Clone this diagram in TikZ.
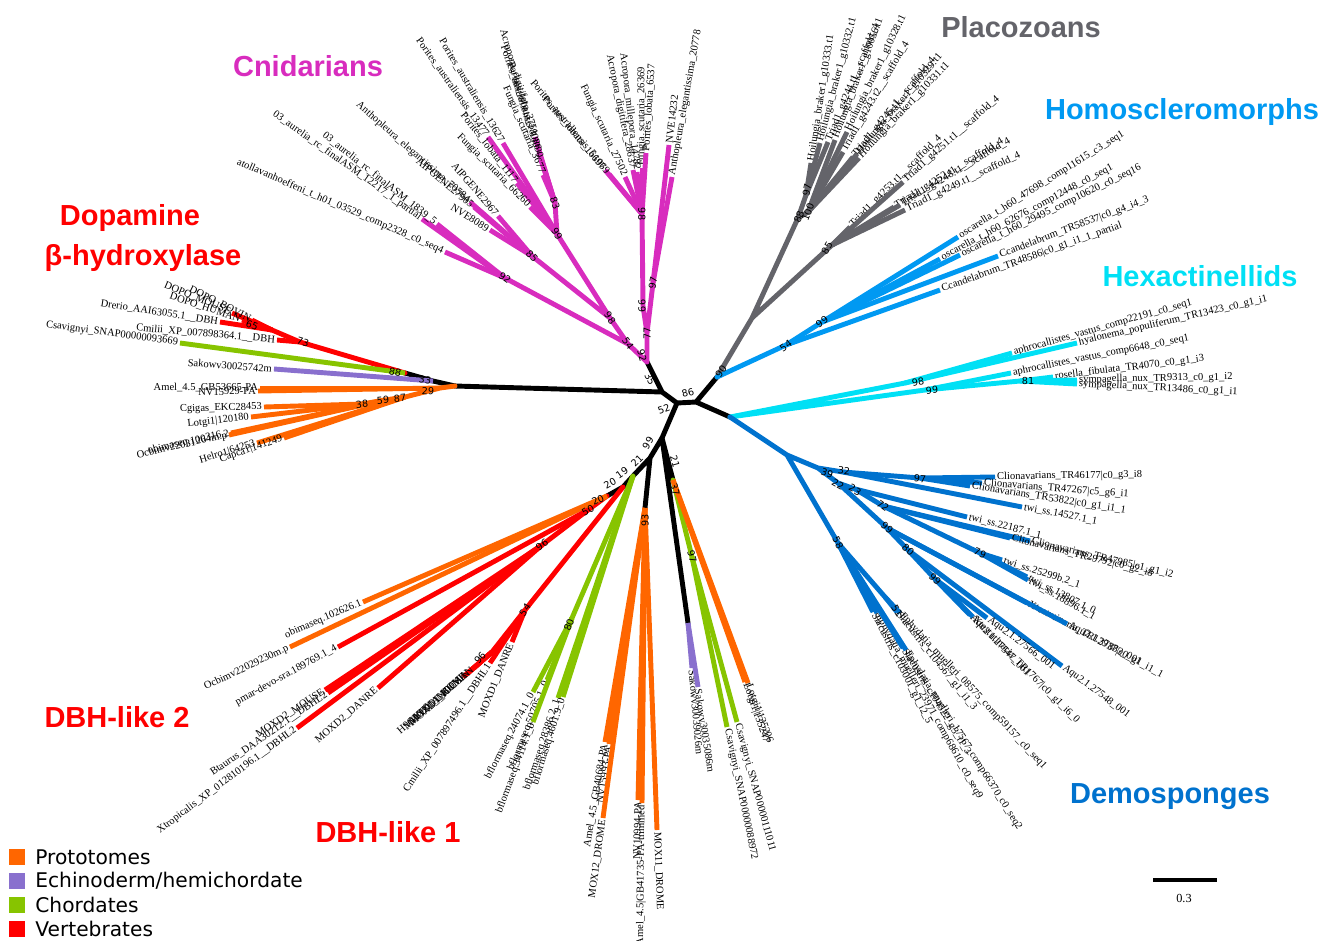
\documentclass[tikz,border=0pt]{standalone}
\usepackage{fontspec}
\setmainfont{Liberation Serif}
\newfontfamily\headfont{Liberation Sans}
\newfontfamily\keyfont{DejaVu Sans}

\definecolor{proto}{RGB}{255,102,0}
\definecolor{echino}{RGB}{137,112,206}
\definecolor{chord}{RGB}{135,196,0}
\definecolor{verte}{RGB}{255,0,0}
\definecolor{cnid}{RGB}{216,44,190}
\definecolor{placo}{RGB}{100,100,106}
\definecolor{homo}{RGB}{0,153,242}
\definecolor{hexa}{RGB}{0,224,245}
\definecolor{demo}{RGB}{0,114,206}

\tikzset{
  branch/.style={line width=2.8pt},
  stem/.style={branch,line cap=round},
  leaflabel/.style={font=\fontsize{6}{7}\selectfont,inner sep=1pt},
  boot/.style={font=\keyfont\fontsize{5.5}{6}\selectfont,inner sep=0pt},
  clade/.style={font=\headfont\bfseries\fontsize{16.5}{19}\selectfont,inner sep=0pt},
  keybox/.style={minimum size=9pt,inner sep=0pt},
  keytext/.style={font=\keyfont\fontsize{11.5}{13}\selectfont,anchor=west,inner sep=0pt}
}

% parent, name, position, colour, label
\newcommand{\treeleaf}[5]{%
  \coordinate (#2) at (#3);
  \draw[branch,#4] (#1) -- (#2);
  \pgfmathanglebetweenpoints{\pgfpointanchor{#1}{center}}{\pgfpointanchor{#2}{center}}%
  \edef\leafang{\pgfmathresult}%
  \ifdim\leafang pt>90pt\relax
    \ifdim\leafang pt<270pt\relax
      \node[leaflabel,anchor=east,rotate=\leafang-180] (#2t) at (#2) {#5};
    \else
      \node[leaflabel,anchor=west,rotate=\leafang] (#2t) at (#2) {#5};
    \fi
  \else
    \node[leaflabel,anchor=west,rotate=\leafang] (#2t) at (#2) {#5};
  \fi}

\begin{document}
\catcode`\_=12
\begin{tikzpicture}[x=0.02cm,y=-0.02cm]
\useasboundingbox (0,0) rectangle (1327,940);

% centre of the tree
\coordinate (c1) at (662,392);
\coordinate (c2) at (677,403);
\coordinate (c3) at (696,402);
\coordinate (c4) at (662,438);
\coordinate (cn0) at (647,362);
\coordinate (d0) at (455,386);
\coordinate (hs0) at (717,377);
\coordinate (hx0) at (730,417);
\draw[stem] (c1) -- (cn0) (c1) -- (d0) (c1) -- (c2) -- (c3) (c2) -- (c4)
  (c3) -- (hs0) (c3) -- (hx0);

% dopamine beta-hydroxylase
\coordinate (d1) at (433,381);
\coordinate (d2) at (405,373);
\coordinate (d3) at (300,342);
\coordinate (d4) at (272,330);
\coordinate (d6) at (440,388);
\coordinate (d7) at (405,397);
\coordinate (d8) at (385,400);
\coordinate (d9) at (362,404);
\draw[stem] (d0) -- (d1) -- (d2);
\draw[stem,verte] (d2) -- (d3) -- (d4);
\draw[stem,proto] (d0) -- (d6) -- (d7) -- (d8) -- (d9);
\treeleaf{d2}{csav1}{180,343}{chord}{Csavignyi_SNAP00000093669}
\treeleaf{d1}{sako1}{274,369}{echino}{Sakowv30025742m}
\treeleaf{d3}{cmil1}{277,340}{verte}{Cmilii_XP_007898364.1__DBH}
\treeleaf{d4}{drer1}{220,322}{verte}{Drerio_AAI63055.1__DBH}
\treeleaf{d4}{dopom}{232,313}{verte}{DOPO_MOUSE}
\treeleaf{d4}{dopoh}{242,320}{verte}{DOPO_HUMAN}
\treeleaf{d4}{dopob}{252,320}{verte}{DOPO_BOVIN}
\treeleaf{d6}{amel1}{260,388}{proto}{Amel_4.5_GB53665-PA}
\treeleaf{d6}{nv1}{258,391}{proto}{NV15929-PA}
\treeleaf{d9}{cgig}{264,407}{proto}{Cgigas_EKC28453}
\treeleaf{d9}{lotg1}{251,417}{proto}{Lotgi1|120180}
\treeleaf{d8}{obim1}{231,433}{proto}{obimaseq.100316.2}
\treeleaf{d8}{ocbi1}{229,435}{proto}{Ocbimv22031264m.p}
\treeleaf{d7}{helr}{257,443}{proto}{Helro1|64253}
\treeleaf{d7}{capc}{284,438}{proto}{Capca1|141249}

% cnidarians
\coordinate (cnA) at (647,333);
\coordinate (cnB) at (643,306);
\coordinate (cnC) at (642,214);
\coordinate (cnJ) at (653,283);
\coordinate (cnD) at (628,344);
\coordinate (cnE) at (610,318);
\coordinate (cnF) at (557,234);
\coordinate (cnG) at (555,203);
\coordinate (cnH) at (532,256);
\coordinate (cnI) at (505,278);
\draw[stem,cnid] (cn0) -- (cnA) -- (cnB) -- (cnC) (cnA) -- (cnJ)
  (cn0) -- (cnD) -- (cnE) -- (cnF) -- (cnG) (cnE) -- (cnH) (cnD) -- (cnI);
\treeleaf{cnJ}{nve1}{669,145}{cnid}{NVE14232}
\treeleaf{cnJ}{anth1}{672,177}{cnid}{Anthopleura_elegantissima_20778}
\treeleaf{cnC}{plob1}{605,170}{cnid}{Porites_lobata_16697}
\treeleaf{cnC}{paus1}{609,174}{cnid}{Porites_australiensis_51069}
\treeleaf{cnC}{fung1}{625,177}{cnid}{Fungia_scutaria_27502}
\treeleaf{cnC}{adig1}{633,170}{cnid}{Acropora_digitifera_28637}
\treeleaf{cnC}{amil1}{637,172}{cnid}{Acropora_millepora_14782}
\treeleaf{cnC}{fung2}{642,168}{cnid}{Fungia_scutaria_26369}
\treeleaf{cnC}{plob2}{646,153}{cnid}{Porites_lobata_6537}
\treeleaf{cnG}{adig2}{535,137}{cnid}{Acropora_digitifera_3751}
\treeleaf{cnG}{plob3}{539,152}{cnid}{Porites_lobata_18086}
\treeleaf{cnG}{paus2}{541,160}{cnid}{Porites_australiensis_18090}
\treeleaf{cnG}{fung3}{543,175}{cnid}{Fungia_scutaria_3677}
\treeleaf{cnF}{paus3}{488,137}{cnid}{Porites_australiensis_13477}
\treeleaf{cnF}{paus4}{503,143}{cnid}{Porites_australiensis_13627}
\treeleaf{cnF}{plob4}{517,183}{cnid}{Porites_lobata_1117}
\treeleaf{cnF}{fung4}{530,207}{cnid}{Fungia_scutaria_66260}
\treeleaf{cnH}{anth2}{470,202}{cnid}{Anthopleura_elegantissima_70584}
\treeleaf{cnH}{aipg1}{474,207}{cnid}{AIPGENE27905}
\treeleaf{cnH}{aipg2}{498,216}{cnid}{AIPGENE2967}
\treeleaf{cnH}{nve2}{490,230}{cnid}{NVE8089}
\treeleaf{cnI}{aur1}{422,219}{cnid}{03_aurelia_rc_finalASM_12217_1_partial}
\treeleaf{cnI}{aur2}{437,224}{cnid}{03_aurelia_rc_finalASM_1839_5}
\treeleaf{cnI}{atol1}{445,252}{cnid}{atollavanhoeffeni_t_h01_03529_comp2328_c0_seq4}

% placozoans
\coordinate (pl0) at (752,318);
\coordinate (pl1) at (798,218);
\coordinate (pl2) at (806,195);
\coordinate (pl3) at (808,212);
\coordinate (pl4) at (832,245);
\draw[stem,placo] (hs0) -- (pl0) -- (pl1) -- (pl2) (pl1) -- (pl3) (pl0) -- (pl4);
\treeleaf{pl2}{hoil1}{811,163}{placo}{Hoilungia_braker1_g10333.t1}
\treeleaf{pl2}{hoil2}{820,143}{placo}{Hoilungia_braker1_g10332.t1}
\treeleaf{pl2}{tri1}{828,142}{placo}{Triad1_g4244.t1__scaffold_4}
\treeleaf{pl3}{hoil3}{835,140}{placo}{Hoilungia_braker1_g10056.t1}
\treeleaf{pl3}{tri2}{843,152}{placo}{Triad1_g4243.t2__scaffold_4}
\treeleaf{pl3}{hoil4}{847,132}{placo}{Hoilungia_braker1_g10328.t1}
\treeleaf{pl3}{tri3}{853,157}{placo}{Triad1_g4245.t1__scaffold_4}
\treeleaf{pl3}{hoil5}{857,154}{placo}{Hoilungia_braker1_g10329.t1}
\treeleaf{pl3}{hoil6}{859,158}{placo}{Hoilungia_braker1_g10331.t1}
\treeleaf{pl4}{tri4}{850,227}{placo}{Triad1_g4253.t1__scaffold_4}
\treeleaf{pl4}{tri5}{903,182}{placo}{Triad1_g4251.t1__scaffold_4}
\treeleaf{pl4}{tri6}{894,207}{placo}{Triad1_g4252.t1__scaffold_4}
\treeleaf{pl4}{tri7}{900,205}{placo}{Triad1_g4248.t1__scaffold_4}
\treeleaf{pl4}{tri8}{905,210}{placo}{Triad1_g4249.t1__scaffold_4}

% homoscleromorphs
\coordinate (hm1) at (786,345);
\coordinate (hm2) at (822,322);
\draw[stem,homo] (hs0) -- (hm1) -- (hm2);
\treeleaf{hm2}{osc1}{958,237}{homo}{oscarella_t_h60_47698_comp11615_c3_seq1}
\treeleaf{hm2}{osc2}{940,259}{homo}{oscarella_t_h60_62676_comp12448_c0_seq1}
\treeleaf{hm2}{osc3}{960,255}{homo}{oscarella_t_h60_29495_comp10620_c0_seq16}
\treeleaf{hm2}{ccan1}{998,256}{homo}{Ccandelabrum_TR58537|c0_g4_i4_3}
\treeleaf{hm1}{ccan2}{940,290}{homo}{Ccandelabrum_TR48586|c0_g1_i1_1_partial}

% hexactinellids
\coordinate (hx1) at (905,383);
\coordinate (hx2) at (925,390);
\coordinate (hx3) at (1020,381);
\draw[stem,hexa] (hx0) -- (hx1) (hx0) -- (hx2) -- (hx3);
\treeleaf{hx1}{aph1}{1012,353}{hexa}{aphrocallistes_vastus_comp22191_c0_seq1}
\treeleaf{hx1}{hyal1}{1077,343}{hexa}{hyalonema_populiferum_TR13423_c0_g1_i1}
\treeleaf{hx2}{aph2}{1011,373}{hexa}{aphrocallistes_vastus_comp6648_c0_seq1}
\treeleaf{hx3}{ros1}{1053,377}{hexa}{rosella_fibulata_TR4070_c0_g1_i3}
\treeleaf{hx3}{sym1}{1077,380}{hexa}{sympagella_nux_TR9313_c0_g1_i2}
\treeleaf{hx3}{sym2}{1077,384}{hexa}{sympagella_nux_TR13486_c0_g1_i1}

% demosponges
\coordinate (dm0) at (787,455);
\coordinate (dm1) at (818,468);
\coordinate (dm2) at (843,472);
\coordinate (dm3) at (920,478);
\coordinate (dm4) at (838,483);
\coordinate (dm5) at (855,489);
\coordinate (dm6) at (883,506);
\coordinate (dm7) at (980,553);
\coordinate (dm8) at (887,528);
\coordinate (dm9) at (908,550);
\coordinate (dm10) at (935,579);
\coordinate (dm11) at (838,543);
\coordinate (dm12) at (885,597);
\draw[stem,demo] (hx0) -- (dm0) -- (dm1) -- (dm2) -- (dm3) (dm1) -- (dm4) -- (dm5) -- (dm6) -- (dm7)
  (dm4) -- (dm8) -- (dm9) -- (dm10) (dm0) -- (dm11) -- (dm12);
\treeleaf{dm3}{cli1}{995,477}{demo}{Clionavarians_TR46177|c0_g3_i8}
\treeleaf{dm3}{cli2}{982,483}{demo}{Clionavarians_TR47267|c5_g6_i1}
\treeleaf{dm3}{cli3}{970,486}{demo}{Clionavarians_TR53822|c0_g1_i1_1}
\treeleaf{dm2}{twi1}{1022,507}{demo}{twi_ss.14527.1_1}
\treeleaf{dm5}{twi2}{967,517}{demo}{twi_ss.22187.1_1}
\treeleaf{dm6}{cli4}{1030,541}{demo}{Clionavarians_TR47985|c1_g1_i2}
\treeleaf{dm6}{cli5}{1010,538}{demo}{Clionavarians_TR29792|c0_g2_i8}
\treeleaf{dm7}{twi3}{1002,560}{demo}{twi_ss.25299b.2_1}
\treeleaf{dm7}{twi4}{1027,577}{demo}{twi_ss.13807.1_0}
\treeleaf{dm7}{twi5}{1028,580}{demo}{twi_ss.18896.1_1}
\treeleaf{dm8}{xte1}{1027,603}{demo}{Xtestutinaria_TR12937|c0_g1_i1_1}
\treeleaf{dm8}{aqu1}{1067,624}{demo}{Aqu2.1.37883_001}
\treeleaf{dm9}{aqu2}{1062,666}{demo}{Aqu2.1.27548_001}
\treeleaf{dm10}{aqu3}{987,618}{demo}{Aqu2.1.27566_001}
\treeleaf{dm10}{xte2}{973,617}{demo}{Xtestutinaria_TR1767|c0_g1_i6_0}
\treeleaf{dm10}{aqu4}{970,615}{demo}{Aqu2.1.27547_001}
\treeleaf{dm11}{slac1}{873,612}{demo}{Slacustris_c103001_g1_i2_5}
\treeleaf{dm11}{ephy1}{877,613}{demo}{Ephydatia_muelleri_23971_comp68610_c0_seq9}
\treeleaf{dm11}{slac2}{903,648}{demo}{Slacustris_c104522_g3_i1_3}
\treeleaf{dm11}{ephy2}{906,650}{demo}{Ephydatia_muelleri_17567_comp66370_c0_seq2}
\treeleaf{dm12}{slac3}{897,612}{demo}{Slacustris_c104567_g1_i1_3}
\treeleaf{dm12}{ephy3}{900,613}{demo}{Ephydatia_muelleri_08575_comp59157_c0_seq1}

% DBH-like 1 and 2
\coordinate (bb1) at (650,458);
\coordinate (bb2) at (633,476);
\coordinate (bb3) at (623,487);
\coordinate (bb4) at (607,496);
\coordinate (or0) at (645,508);
\coordinate (or1) at (673,480);
\coordinate (pu0) at (688,623);
\coordinate (gr1) at (572,618);
\coordinate (gr3) at (692,557);
\coordinate (rd1) at (525,610);
\coordinate (rd2) at (492,652);
\coordinate (rr1) at (588,510);
\coordinate (rr2) at (542,545);
\draw[stem] (c4) -- (bb1) -- (bb2) -- (bb3) -- (bb4) (bb1) -- (or0) (c4) -- (or1) (c4) -- (pu0);
\draw[stem,chord] (bb2) -- (gr1) (or1) -- (gr3);
\draw[stem,verte] (bb3) -- (rd1) -- (rd2) (bb4) -- (rr1) -- (rr2);
\treeleaf{bb4}{obim2}{363,602}{proto}{obimaseq.102626.1}
\treeleaf{bb4}{ocbi2}{290,647}{proto}{Ocbimv22029230m.p}
\treeleaf{rr1}{pmar1}{338,647}{verte}{pmar-devo-sra.189769.1_4}
\treeleaf{rr2}{moxd2m}{325,690}{verte}{MOXD2_MOUSE}
\treeleaf{rr2}{btau1}{328,693}{verte}{Btaurus_DAA30212.1__DBHL2}
\treeleaf{rr2}{xtro1}{297,728}{verte}{Xtropicalis_XP_012810196.1__DBHL2}
\treeleaf{rr2}{moxd2d}{378,688}{verte}{MOXD2_DANRE}
\treeleaf{rd2}{h9gu}{463,677}{verte}{H9GUE0_ANOCA}
\treeleaf{rd2}{moxd1m}{467,674}{verte}{MOXD1_MOUSE}
\treeleaf{rd2}{moxd1b}{470,671}{verte}{MOXD1_BOVIN}
\treeleaf{rd2}{moxd1h}{474,668}{verte}{MOXD1_HUMAN}
\treeleaf{rd1}{cmil2}{490,663}{verte}{Cmilii_XP_007897496.1__DBHL1}
\treeleaf{rd1}{moxd1d}{512,642}{verte}{MOXD1_DANRE}
\treeleaf{gr1}{bflo1}{533,692}{chord}{bflormaseq.24074.1_0}
\treeleaf{gr1}{bflo2}{547,680}{chord}{bflormaseq.50705.1_0}
\treeleaf{gr1}{bflo3}{533,722}{chord}{bflormaseq.34114.1_0}
\treeleaf{bb2}{bflo4}{558,698}{chord}{bflormaseq.28386.2_1}
\treeleaf{bb2}{bflo5}{563,697}{chord}{bflormaseq.4601.9_0}
\treeleaf{or0}{amel2}{605,742}{proto}{Amel_4.5_GB40684-PA}
\treeleaf{or0}{nv2}{609,744}{proto}{NV15993-PA}
\treeleaf{or0}{mox12}{603,818}{proto}{MOX12_DROME}
\treeleaf{or0}{nv3}{638,800}{proto}{NV10994-PA}
\treeleaf{or0}{amel3}{642,803}{proto}{Amel_4.5|GB41735-PA-trimmed}
\treeleaf{or0}{mox11}{657,830}{proto}{MOX11_DROME}
\treeleaf{or1}{lotg2}{745,682}{proto}{Lotgi1|135247}
\treeleaf{or1}{lotg3}{748,683}{proto}{Lotgi1|135206}
\treeleaf{gr3}{csav2}{727,727}{chord}{Csavignyi_SNAP00000088972}
\treeleaf{gr3}{csav3}{737,722}{chord}{Csavignyi_SNAP00000111011}
\treeleaf{pu0}{sako2}{692,668}{echino}{Sakowv30039026m}
\treeleaf{pu0}{sako3}{698,687}{echino}{Sakowv30035086m}

% bootstrap values
\node[boot,rotate=-62] (b1) at (650,379) {35};
\node[boot,rotate=20] (b2) at (664,409) {52};
\node[boot,rotate=15] (b3) at (688,393) {86};
\node[boot,rotate=-17] (b4) at (303,342) {73};
\node[boot,rotate=-20] (b5) at (252,325) {65};
\node[boot,rotate=-12] (b6) at (395,372) {88};
\node[boot,rotate=-8] (b7) at (425,380) {33};
\node[boot,rotate=-3] (b8) at (428,391) {29};
\node[boot,rotate=5] (b9) at (362,404) {38};
\node[boot,rotate=5] (b10) at (383,400) {59};
\node[boot,rotate=5] (b11) at (400,398) {87};
\node[boot,rotate=-75] (b12) at (642,356) {92};
\node[boot,rotate=90] (b13) at (647,333) {77};
\node[boot,rotate=-88] (b14) at (642,306) {99};
\node[boot,rotate=80] (b15) at (653,283) {97};
\node[boot,rotate=-90] (b16) at (642,214) {98};
\node[boot,rotate=-55] (b17) at (628,344) {54};
\node[boot,rotate=-55] (b18) at (610,318) {98};
\node[boot,rotate=-60] (b19) at (557,234) {99};
\node[boot,rotate=-70] (b20) at (555,203) {83};
\node[boot,rotate=-45] (b21) at (532,256) {85};
\node[boot,rotate=-35] (b22) at (505,278) {92};
\node[boot,rotate=55] (b23) at (721,371) {90};
\node[boot,rotate=70] (b24) at (799,217) {88};
\node[boot,rotate=70] (b25) at (808,212) {100};
\node[boot,rotate=80] (b26) at (807,190) {97};
\node[boot,rotate=60] (b27) at (827,248) {85};
\node[boot,rotate=35] (b28) at (786,346) {54};
\node[boot,rotate=35] (b29) at (822,322) {99};
\node[boot,rotate=10] (b30) at (918,382) {98};
\node[boot,rotate=5] (b31) at (932,390) {99};
\node[boot] (b32) at (1028,381) {81};
\node[boot,rotate=-20] (b33) at (827,473) {39};
\node[boot,rotate=-5] (b34) at (844,471) {32};
\node[boot,rotate=-30] (b35) at (838,484) {22};
\node[boot,rotate=-30] (b36) at (855,490) {23};
\node[boot,rotate=-5] (b37) at (920,479) {97};
\node[boot,rotate=-35] (b38) at (883,506) {72};
\node[boot,rotate=-40] (b39) at (887,528) {99};
\node[boot,rotate=-40] (b40) at (908,550) {80};
\node[boot,rotate=-45] (b41) at (935,579) {99};
\node[boot,rotate=-25] (b42) at (980,553) {79};
\node[boot,rotate=-65] (b43) at (838,543) {58};
\node[boot,rotate=-60] (b44) at (897,611) {51};
\node[boot,rotate=60] (b45) at (648,443) {99};
\node[boot,rotate=45] (b46) at (637,461) {21};
\node[boot,rotate=35] (b47) at (622,473) {19};
\node[boot,rotate=30] (b48) at (610,483) {20};
\node[boot,rotate=25] (b49) at (598,500) {20};
\node[boot,rotate=30] (b50) at (588,510) {50};
\node[boot,rotate=35] (b51) at (542,545) {96};
\node[boot,rotate=55] (b52) at (525,610) {54};
\node[boot,rotate=50] (b53) at (480,658) {96};
\node[boot,rotate=70] (b54) at (569,625) {80};
\node[boot,rotate=90] (b55) at (645,520) {93};
\node[boot,rotate=-75] (b56) at (675,462) {21};
\node[boot,rotate=-75] (b57) at (675,490) {37};
\node[boot,rotate=-75] (b58) at (692,557) {97};

% clade names
\node[clade,placo] (tplaco) at (1021,27) {Placozoans};
\node[clade,cnid] (tcnid) at (308,66) {Cnidarians};
\node[clade,homo] (thomo) at (1182,112) {Homoscleromorphs};
\node[clade,hexa] (thexa) at (1200,276) {Hexactinellids};
\node[clade,verte] (tdopa) at (130,218) {Dopamine};
\node[clade,verte] (tbeta) at (143,258) {β-hydroxylase};
\node[clade,verte] (tdbl2) at (117,717) {DBH-like 2};
\node[clade,verte] (tdbl1) at (388,832) {DBH-like 1};
\node[clade,demo] (tdemo) at (1170,797) {Demosponges};

% legend
\node[keybox,fill=proto] (k1) at (17,857) {};
\node[keytext] (k1t) at (35,857) {Prototomes};
\node[keybox,fill=echino] (k2) at (17,881) {};
\node[keytext] (k2t) at (35,881) {Echinoderm/hemichordate};
\node[keybox,fill=chord] (k3) at (17,905) {};
\node[keytext] (k3t) at (35,905) {Chordates};
\node[keybox,fill=verte] (k4) at (17,929) {};
\node[keytext] (k4t) at (35,929) {Vertebrates};

% scale bar
\coordinate (s0) at (1153,880);
\coordinate (s1) at (1217,880);
\draw[line width=2.2pt] (s0) -- (s1);
\node[font=\fontsize{7}{8}\selectfont] (s2) at (1184,898) {0.3};
\end{tikzpicture}
\end{document}
